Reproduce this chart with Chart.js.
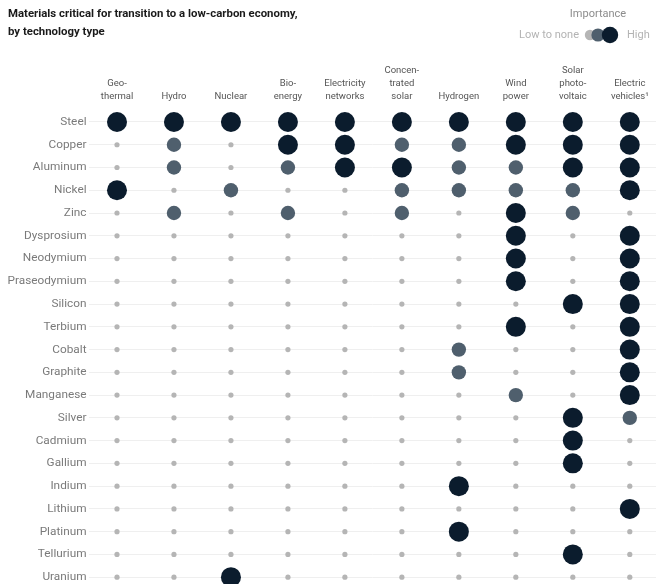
<!DOCTYPE html>
<html>
<head>
<meta charset="utf-8">
<title>Materials critical for transition to a low-carbon economy</title>
<script src="https://cdn.jsdelivr.net/npm/chart.js@4.4.1/dist/chart.umd.min.js"></script>
<style>
  html, body { margin: 0; padding: 0; background: #fff; }
  #materialsChart { display: block; }
</style>
</head>
<body>
<canvas id="materialsChart" width="656" height="584"></canvas>
<script>
const materials = ['Steel', 'Copper', 'Aluminum', 'Nickel', 'Zinc', 'Dysprosium', 'Neodymium', 'Praseodymium',
  'Silicon', 'Terbium', 'Cobalt', 'Graphite', 'Manganese', 'Silver', 'Cadmium', 'Gallium', 'Indium',
  'Lithium', 'Platinum', 'Tellurium', 'Uranium'];

const technologies = [['Geo-', 'thermal'], ['Hydro'], ['Nuclear'], ['Bio-', 'energy'], ['Electricity', 'networks'],
  ['Concen-', 'trated', 'solar'], ['Hydrogen'], ['Wind', 'power'], ['Solar', 'photo-', 'voltaic'], ['Electric', 'vehicles¹']];

// importance of each material, same order as materials: 0 = low to none, 1 = medium, 2 = high
const geothermal  = [2, 0, 0, 2, 0, 0, 0, 0, 0, 0, 0, 0, 0, 0, 0, 0, 0, 0, 0, 0, 0];
const hydro       = [2, 1, 1, 0, 1, 0, 0, 0, 0, 0, 0, 0, 0, 0, 0, 0, 0, 0, 0, 0, 0];
const nuclear     = [2, 0, 0, 1, 0, 0, 0, 0, 0, 0, 0, 0, 0, 0, 0, 0, 0, 0, 0, 0, 2];
const bioenergy   = [2, 2, 1, 0, 1, 0, 0, 0, 0, 0, 0, 0, 0, 0, 0, 0, 0, 0, 0, 0, 0];
const electricity = [2, 2, 2, 0, 0, 0, 0, 0, 0, 0, 0, 0, 0, 0, 0, 0, 0, 0, 0, 0, 0];
const csp         = [2, 1, 2, 1, 1, 0, 0, 0, 0, 0, 0, 0, 0, 0, 0, 0, 0, 0, 0, 0, 0];
const hydrogen    = [2, 1, 1, 1, 0, 0, 0, 0, 0, 0, 1, 1, 0, 0, 0, 0, 2, 0, 2, 0, 0];
const wind        = [2, 2, 1, 1, 2, 2, 2, 2, 0, 2, 0, 0, 1, 0, 0, 0, 0, 0, 0, 0, 0];
const solarPV     = [2, 2, 2, 1, 1, 0, 0, 0, 2, 0, 0, 0, 0, 2, 2, 2, 0, 0, 0, 2, 0];
const electricEV  = [2, 2, 2, 2, 0, 2, 2, 2, 2, 2, 2, 2, 2, 1, 0, 0, 0, 2, 0, 0, 0];

const importanceByTech = [geothermal, hydro, nuclear, bioenergy, electricity, csp, hydrogen, wind, solarPV, electricEV];

const dotColors = ['#b5b5b5', '#4f5f6d', '#0b1c2d'];
const dotRadius = [2.6, 7.2, 10];
const FONT = 'Roboto';

const points = [];
importanceByTech.forEach((levels, col) => {
  levels.forEach((level, row) => points.push({ x: col, y: row, level: level }));
});

// title + "Importance" key, drawn on the canvas
const headerPlugin = {
  id: 'header',
  afterDraw(chart) {
    const c = chart.ctx;
    c.save();
    c.textBaseline = 'middle';
    c.fillStyle = '#1a1a1a';
    c.font = `bold 11.4px ${FONT}`;
    c.textAlign = 'left';
    c.fillText('Materials critical for transition to a low-carbon economy,', 8, 14);
    c.fillText('by technology type', 8, 32);

    c.font = `11px ${FONT}`;
    c.fillStyle = '#8c8c8c';
    c.textAlign = 'center';
    c.fillText('Importance', 598, 14);
    c.fillStyle = '#b3b3b3';
    c.textAlign = 'right';
    c.fillText('Low to none', 579, 35);
    c.textAlign = 'left';
    c.fillText('High', 627, 35);

    [[590, 5.2], [598, 6.6], [610, 8.2]].forEach(([x, r], i) => {
      c.beginPath();
      c.arc(x, 35, r, 0, Math.PI * 2);
      c.fillStyle = dotColors[i];
      c.fill();
    });
    c.restore();
  }
};

// keep the plot area edge to edge: no extra room for overhanging labels
const noLabelPadding = (scale) => {
  scale.paddingLeft = 0;
  scale.paddingRight = 0;
  scale.paddingTop = 0;
  scale.paddingBottom = 0;
};

new Chart(document.getElementById('materialsChart'), {
  type: 'scatter',
  data: {
    datasets: [{
      data: points,
      pointRadius: (ctx) => dotRadius[ctx.raw.level],
      pointHoverRadius: (ctx) => dotRadius[ctx.raw.level],
      backgroundColor: (ctx) => dotColors[ctx.raw.level],
      borderWidth: 0,
      clip: false,
    }],
  },
  options: {
    responsive: false,
    animation: false,
    layout: { autoPadding: false, padding: 0 },
    plugins: {
      legend: { display: false },
      tooltip: { enabled: false },
    },
    scales: {
      x: {
        type: 'linear',
        position: 'top',
        min: -0.5,
        max: 9.46,
        grid: { display: false, drawTicks: false },
        border: { display: false },
        afterBuildTicks: (scale) => { scale.ticks = technologies.map((t, i) => ({ value: i })); },
        afterFit: (scale) => { scale.height = 110.6; noLabelPadding(scale); },
        ticks: {
          autoSkip: false,
          maxRotation: 0,
          padding: 7,
          color: '#555',
          font: { family: FONT, size: 9.5, lineHeight: 1.4 },
          callback: (value) => technologies[value],
        },
      },
      y: {
        type: 'linear',
        reverse: true,
        min: -0.5,
        max: 20.3,
        grid: { color: '#efefef', drawTicks: false },
        border: { display: false },
        afterBuildTicks: (scale) => { scale.ticks = materials.map((m, i) => ({ value: i })); },
        afterFit: (scale) => { scale.width = 88.5; noLabelPadding(scale); },
        ticks: {
          autoSkip: false,
          padding: 2,
          color: '#7a7a7a',
          font: { family: FONT, size: 11.8 },
          callback: (value) => materials[value],
        },
      },
    },
  },
  plugins: [headerPlugin],
});
</script>
</body>
</html>
